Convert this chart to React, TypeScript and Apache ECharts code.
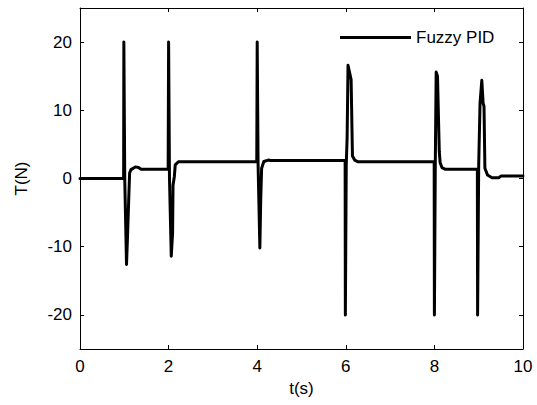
import React, { useEffect, useRef } from "react";
import * as echarts from "echarts";

const seriesName = "Fuzzy PID";
const xTicks = [0, 2, 4, 6, 8, 10];
const yTicks = [-20, -10, 0, 10, 20];

const times = [
  0, 0.985, 0.99, 1.0, 1.01, 1.05, 1.07, 1.1, 1.12, 1.15, 1.25, 1.32, 1.38, 1.99,
  2.0, 2.01, 2.02, 2.06, 2.09, 2.1, 2.13, 2.15, 2.22, 3.99,
  4.0, 4.01, 4.02, 4.06, 4.08, 4.1, 4.15, 4.25, 4.3, 5.985,
  5.99, 6.0, 6.01, 6.03, 6.05, 6.12, 6.15, 6.2, 6.28, 7.995,
  8.0, 8.01, 8.02, 8.04, 8.07, 8.11, 8.13, 8.17, 8.25, 8.97,
  8.975, 8.985, 9.0, 9.03, 9.07, 9.1, 9.12, 9.14, 9.2, 9.3, 9.45, 9.5, 10,
];
const torque = [
  0, 0, 20, 20, 0, -12.6, -9, -3, 0.8, 1.3, 1.7, 1.6, 1.35, 1.35,
  20, 20, 0, -11.4, -8, -1, 0.3, 2.0, 2.45, 2.45,
  20, 20, 2, -10.2, -3, 1.5, 2.5, 2.7, 2.65, 2.65,
  -20, -20, 2, 6, 16.6, 14.5, 3.3, 2.7, 2.45, 2.45,
  -20, -20, 2, 15.6, 15, 4, 2.3, 1.6, 1.35, 1.35,
  -20, -20, 2, 11, 14.4, 11, 10.6, 1.5, 0.5, 0.1, 0.1, 0.35, 0.35,
];

export default function App() {
  const ref = useRef<HTMLDivElement>(null);
  useEffect(() => {
    if (!ref.current) return;
    const chart = echarts.init(ref.current, null, { renderer: "svg" });
    const font = "'Liberation Sans', Arial, sans-serif";
    const fs = 17;
    const data = times.map((t, i) => [t, torque[i]]);
    const line = { show: true, onZero: false, lineStyle: { color: "#000", width: 1 } };
    const tick = { show: true, inside: true, length: 4, lineStyle: { color: "#000", width: 1 } };
    chart.setOption({
      animation: false,
      backgroundColor: "#ffffff",
      textStyle: { fontFamily: font },
      grid: { left: 80, right: 14, top: 8, bottom: 56, containLabel: false },
      legend: {
        data: [{ name: seriesName, icon: "rect" }],
        left: 340,
        top: 29,
        itemWidth: 71,
        itemHeight: 3,
        itemGap: 0,
        textStyle: { fontFamily: font, fontSize: fs, color: "#000" },
        padding: 0,
      },
      xAxis: [
        {
          type: "value",
          min: 0,
          max: 10,
          interval: 2,
          position: "bottom",
          name: "t(s)",
          nameLocation: "middle",
          nameGap: 26,
          nameTextStyle: { fontFamily: font, fontSize: fs, color: "#000" },
          axisLine: line,
          axisTick: tick,
          axisLabel: { show: true, margin: 9, fontFamily: font, fontSize: fs, color: "#000", customValues: xTicks },
          splitLine: { show: false },
        },
        {
          type: "value",
          min: 0,
          max: 10,
          interval: 2,
          position: "top",
          axisLine: line,
          axisTick: tick,
          axisLabel: { show: false },
          splitLine: { show: false },
        },
      ],
      yAxis: [
        {
          type: "value",
          min: -25,
          max: 25,
          position: "left",
          name: "T(N)",
          nameLocation: "middle",
          nameGap: 50,
          nameTextStyle: { fontFamily: font, fontSize: fs, color: "#000" },
          axisLine: line,
          axisTick: { ...tick, customValues: yTicks },
          axisLabel: { show: true, margin: 8, fontFamily: font, fontSize: fs, color: "#000", customValues: yTicks },
          splitLine: { show: false },
        },
        {
          type: "value",
          min: -25,
          max: 25,
          position: "right",
          axisLine: line,
          axisTick: { ...tick, customValues: yTicks },
          axisLabel: { show: false },
          splitLine: { show: false },
        },
      ],
      series: [
        {
          name: seriesName,
          type: "line",
          data,
          xAxisIndex: 0,
          yAxisIndex: 0,
          showSymbol: false,
          symbol: "none",
          lineStyle: { color: "#000", width: 3, join: "round", cap: "round" },
          itemStyle: { color: "#000" },
        },
      ],
    });
    return () => chart.dispose();
  }, []);
  return <div ref={ref} style={{ width: 537, height: 405, position: "absolute", left: 0, top: 0 }} />;
}
